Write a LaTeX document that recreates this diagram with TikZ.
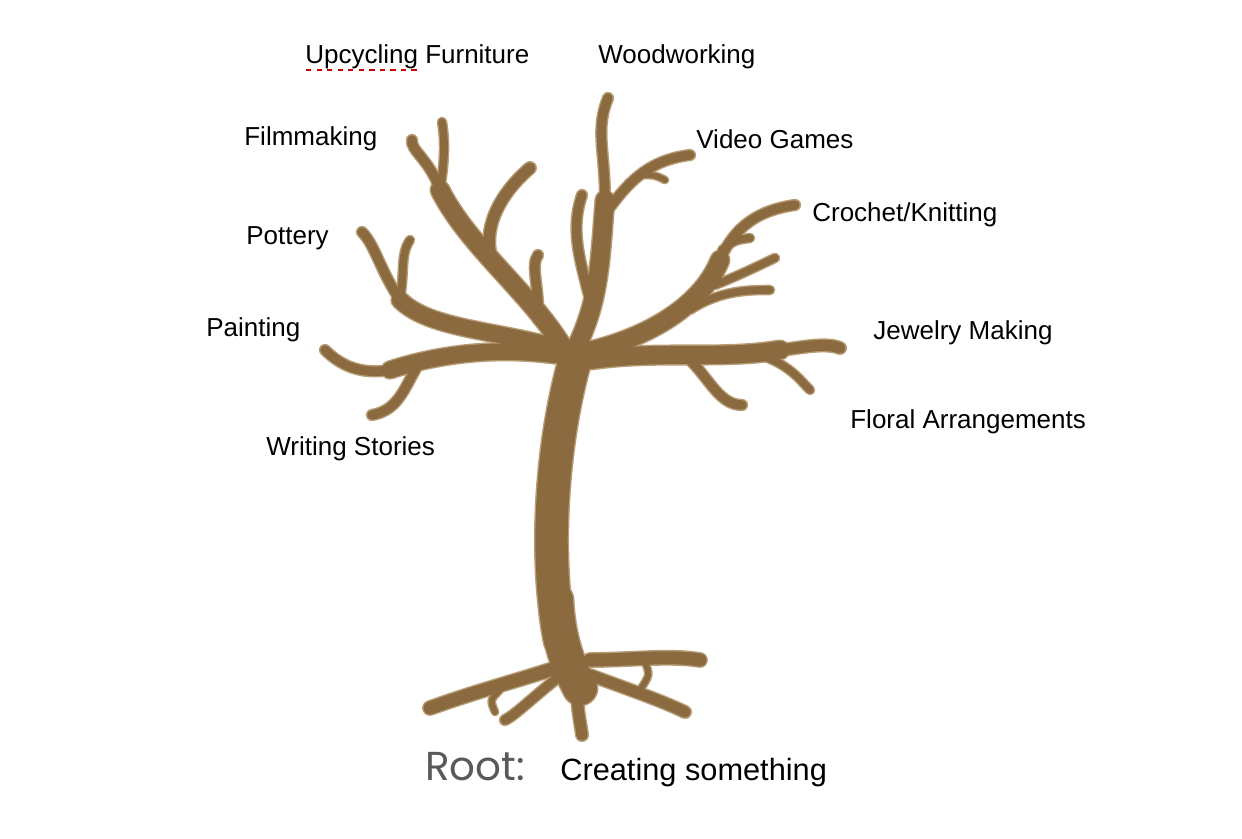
\documentclass[tikz,border=0pt]{standalone}
\usepackage{fontspec}
\setmainfont{Liberation Sans}
\newfontfamily\rootfont{Poppins}
\definecolor{barkedge}{HTML}{B89E78}
\definecolor{bark}{HTML}{8A6A3E}
\tikzset{
  outer/.style={draw=barkedge, line cap=round, line join=round},
  inner/.style={draw=bark, line cap=round, line join=round},
  lbl/.style={anchor=west, inner sep=0pt, font=\fontsize{14.8}{17}\selectfont}
}
% every limb of the tree, drawn once per pass
\newcommand\treelimbs{%
% roots
\limb{9pt}{(565,665) .. controls (520,680) and (480,690) .. (430,708)}
\limb{5pt}{(500,690) .. controls (490,700) .. (495,712)}
\limb{9pt}{(590,660) .. controls (630,660) and (670,655) .. (700,660)}
\limb{8pt}{(590,675) .. controls (630,690) and (660,700) .. (685,712)}
\limb{8pt}{(578,675) .. controls (575,700) and (580,720) .. (582,735)}
\limb{7pt}{(555,680) .. controls (530,700) and (515,715) .. (505,720)}
\limb{5pt}{(640,690) .. controls (650,675) .. (645,662)}
% left branches
\limb{12pt}{(570,360) .. controls (540,300) and (470,250) .. (440,190)}
\limb{7pt}{(440,190) .. controls (430,160) and (410,150) .. (412,140)}
\limb{6pt}{(440,190) .. controls (445,160) and (445,140) .. (442,122)}
\limb{8pt}{(492,260) .. controls (480,220) and (510,185) .. (530,168)}
\limb{7pt}{(538,320) .. controls (540,290) and (530,265) .. (538,255)}
\limb{11pt}{(565,350) .. controls (500,330) and (430,330) .. (400,300)}
\limb{7pt}{(400,300) .. controls (380,270) and (375,245) .. (362,232)}
\limb{6pt}{(400,300) .. controls (405,270) and (400,255) .. (410,240)}
\limb{11pt}{(555,355) .. controls (480,345) and (420,360) .. (390,370)}
\limb{7pt}{(390,370) .. controls (360,375) and (340,365) .. (325,350)}
\limb{7pt}{(420,362) .. controls (405,385) and (400,410) .. (372,415)}
% middle branches
\limb{12pt}{(575,350) .. controls (600,300) and (600,260) .. (605,200)}
\limb{7pt}{(605,200) .. controls (605,150) and (595,130) .. (608,98)}
\limb{7pt}{(608,210) .. controls (630,180) and (650,160) .. (690,155)}
\limb{5pt}{(640,175) .. controls (655,175) .. (665,180)}
\limb{7pt}{(590,300) .. controls (580,260) and (570,230) .. (582,195)}
\limb{5pt}{(595,270) .. controls (605,250) .. (600,235)}
% right branches
\limb{12pt}{(585,352) .. controls (640,340) and (700,310) .. (720,260)}
\limb{7pt}{(720,260) .. controls (735,225) and (760,210) .. (795,205)}
\limb{6pt}{(722,250) .. controls (735,240) .. (750,238)}
\limb{6pt}{(715,285) .. controls (740,275) and (760,265) .. (775,258)}
\limb{6pt}{(690,310) .. controls (720,290) and (750,290) .. (770,290)}
\limb{12pt}{(590,360) .. controls (660,350) and (720,360) .. (780,350)}
\limb{8pt}{(780,350) .. controls (800,348) and (825,342) .. (840,348)}
\limb{6pt}{(760,355) .. controls (790,365) and (800,380) .. (810,390)}
\limb{7pt}{(690,360) .. controls (710,380) and (720,405) .. (742,405)}
% trunk
\limb{20pt}{(575,360) .. controls (550,450) and (545,560) .. (560,640)}
\limb{21pt}{(556,600) .. controls (558,640) and (568,665) .. (580,688)}
}
\begin{document}
\begin{tikzpicture}[x=0.02cm, y=-0.02cm]
\useasboundingbox (0,0) rectangle (1242,839);
\newcommand\limb[2]{\draw[outer, line width=#1] #2;}
\treelimbs
\renewcommand\limb[2]{\draw[inner, line width=#1-1.6pt] #2;}
\treelimbs
% labels
\node[lbl] (upcycle) at (305,57) {Upcycling Furniture};
\draw[red!80!black, dashed, line width=1.2pt] (306,70) -- (418,70);
\node[lbl] (wood) at (598,57) {Woodworking};
\node[lbl] (film) at (244,139) {Filmmaking};
\node[lbl] (video) at (696,139) {Video Games};
\node[lbl] (pottery) at (246,238) {Pottery};
\node[lbl] (crochet) at (812,215) {Crochet/Knitting};
\node[lbl] (paint) at (206,330) {Painting};
\node[lbl] (jewel) at (873,333) {Jewelry Making};
\node[lbl] (floral) at (850,422) {Floral Arrangements};
\node[lbl] (writing) at (266,449) {Writing Stories};
\node[anchor=west, inner sep=0pt, text=black!65, font=\rootfont\fontsize{23}{26}\selectfont] (root) at (425,767) {Root:};
\node[lbl, font=\fontsize{17.5}{20}\selectfont] (create) at (560,773) {Creating something};
\end{tikzpicture}
\end{document}
